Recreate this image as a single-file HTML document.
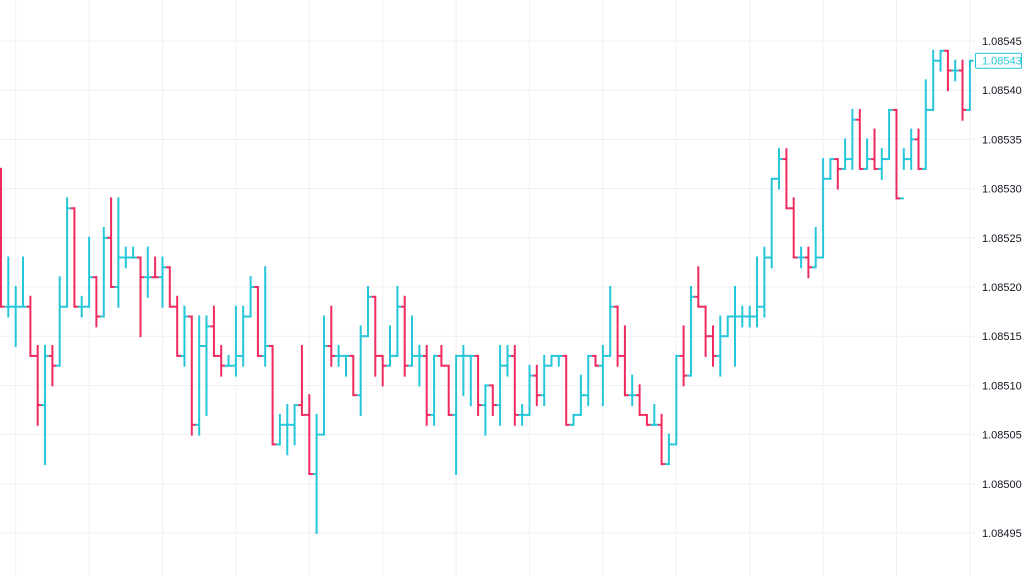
<!DOCTYPE html>
<html><head><meta charset="utf-8"><style>
html,body{margin:0;padding:0;background:#fff;}
svg{display:block;}
text{font-family:"Liberation Sans",sans-serif;font-size:11px;}
</style></head><body>
<svg id="c" width="1024" height="576" xmlns="http://www.w3.org/2000/svg"></svg>
<script>
var d=`r 13 27 27
c 22 28 27
c 25 31 27
c 22 27 27
r 26 32 32
r 31 39 37
c 31 43 32
r 31 35 33
c 24 33 27
c 16 27 17
r 17 27 27
c 26 28 27
c 20 27 24
r 24 29 28
c 19 28 20
r 16 25 25
c 16 27 22
c 21 23 22
c 21 22 22
r 22 30 24
c 21 26 24
r 22 24 24
c 22 27 23
r 23 27 27
r 26 32 32
c 27 33 28
r 28 40 39
c 28 40 31
c 28 38 29
r 27 32 32
r 31 34 33
c 32 33 33
c 27 34 32
c 27 33 28
c 24 28 25
r 25 32 32
c 23 33 31
r 31 41 41
c 38 41 39
c 37 42 39
c 37 41 37
r 31 38 38
r 36 44 44
c 38 50 40
c 28 40 31
r 27 33 32
c 31 33 32
c 32 34 32
r 32 36 36
c 29 38 30
c 25 30 26
r 26 34 32
r 32 35 33
c 29 33 32
c 25 32 27
r 26 34 33
c 28 33 32
c 31 35 32
r 31 39 38
c 32 39 32
r 31 33 33
r 33 38 38
c 32 44 32
c 31 36 32
c 32 37 32
r 32 38 37
c 35 40 35
r 35 38 37
c 31 39 33
c 31 34 32
r 31 39 38
c 37 39 38
c 33 38 34
r 33 37 36
c 32 37 33
c 32 33 32
c 32 33 32
r 32 39 39
c 38 39 38
c 34 38 36
c 32 37 32
r 32 33 33
c 31 37 32
c 25 32 27
r 27 33 32
r 29 36 36
c 34 37 36
r 35 38 38
r 38 39 39
c 37 39 39
r 38 43 43
c 40 43 41
c 32 41 32
r 29 35 34
c 25 34 26
r 23 27 27
r 27 32 30
r 29 33 32
c 28 34 30
c 28 30 28
c 25 33 28
c 27 29 28
c 27 29 28
c 22 29 27
c 21 28 22
c 14 23 14
c 11 15 12
r 11 17 17
r 16 22 22
c 21 23 22
r 21 24 23
c 19 23 22
c 12 22 14
c 12 14 12
r 12 15 13
c 10 13 12
c 7 13 8
r 7 13 13
c 10 13 12
r 9 13 13
c 11 14 12
c 7 12 7
r 7 16 16
c 11 13 12
c 9 13 10
r 9 13 13
c 4 13 7
c 1 7 2
c 1 3 1
r 1 5 3
c 2 4 3
r 2 8 7
c 2 7 2`.split("\n").map(function(s){return s.trim().split(/\s+/);});
function Y(l){return 41+9.84*l;}
function X(i){return 1+7.34*i;}
var s='';
// grid
for(var k=0;k<=10;k++){var y=Y(k*5);s+='<line x1="0" x2="975" y1="'+y.toFixed(1)+'" y2="'+y.toFixed(1)+'" stroke="#f0f1f3" stroke-width="1"/>';}
for(var i=2;i<=132;i+=10){var x=X(i);s+='<line x1="'+x.toFixed(1)+'" x2="'+x.toFixed(1)+'" y1="0" y2="576" stroke="#f0f1f3" stroke-width="1"/>';}
var cyan='#26c6da',red='#ef2a5f';
var prev=13;
for(var i=0;i<d.length;i++){
 var r=d[i],col=r[0]=='r'?red:cyan,h=+r[1],lo=+r[2],c=+r[3],o=prev;
 var x=X(i);
 s+='<g stroke="'+col+'" stroke-width="2" fill="none">';
 s+='<line x1="'+x.toFixed(1)+'" x2="'+x.toFixed(1)+'" y1="'+(Y(h)-1).toFixed(1)+'" y2="'+(Y(lo)+1).toFixed(1)+'"/>';
 s+='<line x1="'+(x-3.7).toFixed(1)+'" x2="'+x.toFixed(1)+'" y1="'+Y(o).toFixed(1)+'" y2="'+Y(o).toFixed(1)+'"/>';
 s+='<line x1="'+x.toFixed(1)+'" x2="'+(x+3.7).toFixed(1)+'" y1="'+Y(c).toFixed(1)+'" y2="'+Y(c).toFixed(1)+'"/>';
 s+='</g>';
 prev=c;
}
var labs=['1.08545','1.08540','1.08535','1.08530','1.08525','1.08520','1.08515','1.08510','1.08505','1.08500','1.08495'];
for(var k=0;k<labs.length;k++){s+='<text x="982" y="'+(Y(k*5)+4).toFixed(1)+'" fill="#131722">'+labs[k]+'</text>';}
var yl=Y(2);
s+='<rect x="975.5" y="'+(yl-7.5).toFixed(1)+'" width="46" height="15" fill="#fff" stroke="#26c6da" stroke-width="1" rx="1"/>';
s+='<text x="982" y="'+(yl+4).toFixed(1)+'" fill="#26c6da">1.08543</text>';
document.getElementById('c').innerHTML=s;
</script>
</body></html>
